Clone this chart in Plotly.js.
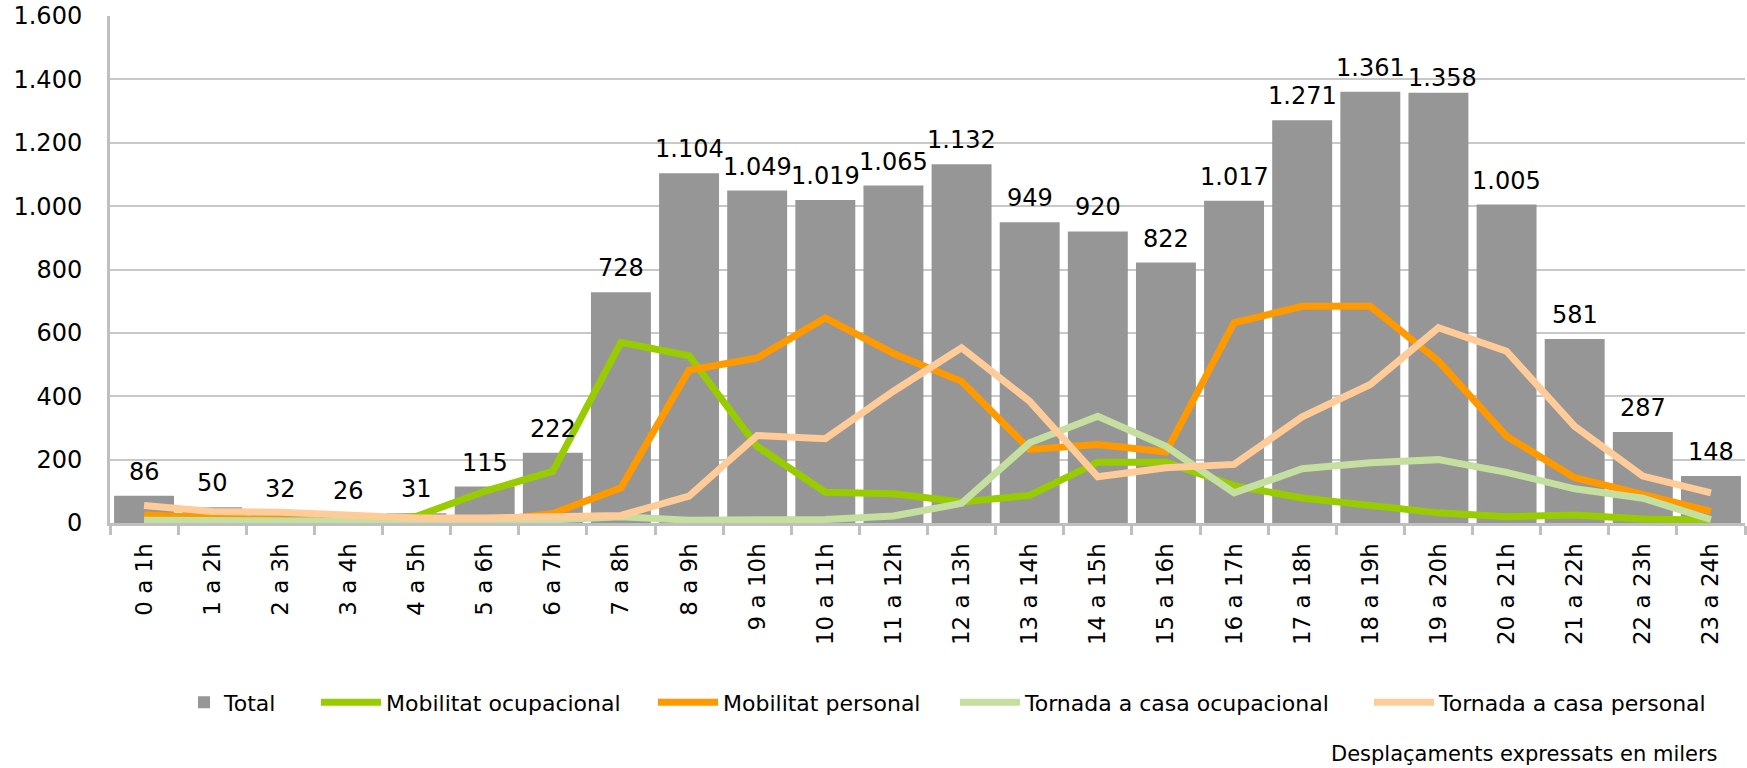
<!DOCTYPE html>
<html>
<head>
<meta charset="utf-8">
<script src="https://cdn.plot.ly/plotly-3.0.1.min.js"></script>
<style>
  html, body { margin: 0; padding: 0; background: #ffffff; }
  #chart { width: 1747px; height: 768px; }
</style>
</head>
<body>
<div id="chart"></div>
<script>
// ---- Data (thousands of trips) ----
var hours = ["0 a 1h","1 a 2h","2 a 3h","3 a 4h","4 a 5h","5 a 6h","6 a 7h","7 a 8h","8 a 9h","9 a 10h","10 a 11h","11 a 12h","12 a 13h","13 a 14h","14 a 15h","15 a 16h","16 a 17h","17 a 18h","18 a 19h","19 a 20h","20 a 21h","21 a 22h","22 a 23h","23 a 24h"];
var total = [86,50,32,26,31,115,222,728,1104,1049,1019,1065,1132,949,920,822,1017,1271,1361,1358,1005,581,287,148];
var mobilitatOcupacional = [11,5,3,2,21,100,163,570,528,242,97,92,66,87,192,192,118,79,53,32,20,25,13,9];
var mobilitatPersonal = [25,15,10,5,5,5,30,111,482,521,647,535,447,232,248,224,632,684,684,511,274,143,90,37];
var tornadaOcupacional = [9,7,6,4,3,3,10,20,9,11,11,22,62,253,337,242,95,171,190,200,160,108,78,11];
var tornadaPersonal = [55,36,34,24,16,16,22,24,85,276,266,416,553,384,146,174,185,335,437,616,542,305,148,95];
var seriesNames = ["Total","Mobilitat ocupacional","Mobilitat personal","Tornada a casa ocupacional","Tornada a casa personal"];
var yTicks = [0,200,400,600,800,1000,1200,1400,1600];
var note = "Desplaçaments expressats en milers";

// ---- Styling ----
var FONT = "DejaVu Sans, Verdana, sans-serif";
var colors = ["#969696","#99cc00","#ff9900","#c4df9f","#ffcc99"];

function fmt(v) { return String(v).replace(/\B(?=(\d{3})+(?!\d))/g, "."); }

var traces = [
  { type: "bar", x: hours, y: total, name: seriesNames[0], marker: { color: colors[0] }, legend: "legend", hoverinfo: "x+y" },
  { type: "scatter", mode: "lines", x: hours, y: mobilitatOcupacional, name: seriesNames[1], line: { color: colors[1], width: 7 }, legend: "legend2", cliponaxis: false },
  { type: "scatter", mode: "lines", x: hours, y: mobilitatPersonal, name: seriesNames[2], line: { color: colors[2], width: 7 }, legend: "legend3", cliponaxis: false },
  { type: "scatter", mode: "lines", x: hours, y: tornadaOcupacional, name: seriesNames[3], line: { color: colors[3], width: 7 }, legend: "legend4", cliponaxis: false },
  { type: "scatter", mode: "lines", x: hours, y: tornadaPersonal, name: seriesNames[4], line: { color: colors[4], width: 7 }, legend: "legend5", cliponaxis: false }
];

// data labels above bars; nudge a label that would collide with its left neighbour
var annotations = total.map(function (v, i) {
  var clash = i > 0 && v >= 1000 && Math.abs(v - total[i - 1]) < 10;
  return { x: hours[i], y: v, xref: "x", yref: "y", text: fmt(v), showarrow: false,
           yanchor: "bottom", yshift: clash ? -1 : 8, xshift: clash ? 4 : 0,
           font: { family: FONT, size: 24, color: "#000" } };
});
annotations.push({ xref: "paper", yref: "paper", x: 0.9847, y: -0.4566, xanchor: "right", yanchor: "middle",
                   text: note, showarrow: false, font: { family: FONT, size: 21, color: "#000" } });

var L = 110, W = 1635;
function px(p) { return (p - L) / W; }
var legY = (523.5 - 703) / 507;
function leg(textStart, iw) {
  var off = iw ? 71 : 42;
  return { orientation: "h", x: px(textStart - off), xanchor: "left", y: legY, yanchor: "middle",
           font: { family: FONT, size: 22, color: "#000" }, bgcolor: "rgba(0,0,0,0)", itemwidth: iw || 30 };
}

var layout = {
  width: 1747, height: 768,
  margin: { l: L, r: 2, t: 16, b: 245, autoexpand: false },
  paper_bgcolor: "#ffffff", plot_bgcolor: "#ffffff",
  separators: ",.",
  font: { family: FONT, size: 24, color: "#000" },
  showlegend: true,
  bargap: 0.12,
  xaxis: {
    type: "category", tickangle: -90, tickson: "boundaries",
    ticks: "outside", ticklen: 9, tickwidth: 3, tickcolor: "#bfbfbf",
    showline: true, linecolor: "#bfbfbf", linewidth: 3,
    showgrid: false, zeroline: false, ticklabelstandoff: 8,
    tickfont: { family: FONT, size: 23, color: "#000" }
  },
  yaxis: {
    range: [0, 1600], tickvals: yTicks, tickformat: ",d",
    showline: true, linecolor: "#bfbfbf", linewidth: 3,
    showgrid: true, gridcolor: "#c8c8c8", gridwidth: 2, zeroline: false,
    ticks: "", ticklabelstandoff: 20,
    tickfont: { family: FONT, size: 24, color: "#000" }
  },
  legend: leg(226),
  legend2: leg(387, 60),
  legend3: leg(724, 60),
  legend4: leg(1026, 60),
  legend5: leg(1440, 60),
  annotations: annotations
};

Plotly.newPlot("chart", traces, layout, { staticPlot: true, displayModeBar: false });
</script>
</body>
</html>
